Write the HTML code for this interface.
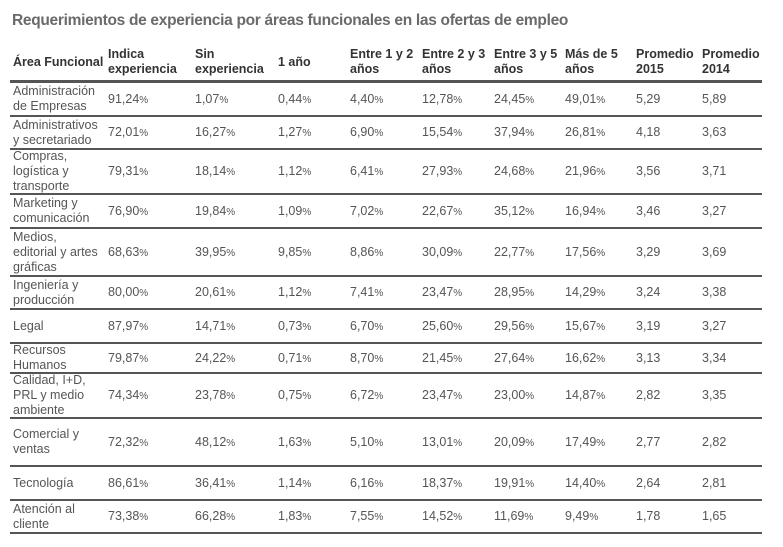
<!DOCTYPE html>
<html><head><meta charset="utf-8">
<style>
body{margin:0;width:783px;height:547px;background:#fff;font-family:"Liberation Sans",sans-serif;position:relative;overflow:hidden}
#title{position:absolute;left:12px;top:12px;font-size:15.5px;font-weight:bold;color:#6a6a6a;letter-spacing:-0.3px}
.h{position:absolute;font-size:12.5px;font-weight:bold;color:#333;line-height:15px}
.c{position:absolute;font-size:12.5px;color:#555;line-height:15px}
.c small{font-size:10px}
.line{position:absolute;left:10px;width:752px;background:#555}
</style></head><body>
<div id="title">Requerimientos de experiencia por áreas funcionales en las ofertas de empleo</div>
<div id="t"></div>
<script>
const headers=["Área Funcional","Indica<br>experiencia","Sin<br>experiencia","1 año","Entre 1 y 2<br>años","Entre 2 y 3<br>años","Entre 3 y 5<br>años","Más de 5<br>años","Promedio<br>2015","Promedio<br>2014"];
const areas=["Administración<br>de Empresas","Administrativos<br>y secretariado","Compras,<br>logística y<br>transporte","Marketing y<br>comunicación","Medios,<br>editorial y artes<br>gráficas","Ingeniería y<br>producción","Legal","Recursos<br>Humanos","Calidad, I+D,<br>PRL y medio<br>ambiente","Comercial y<br>ventas","Tecnología","Atención al<br>cliente"];
const indica=["91,24","72,01","79,31","76,90","68,63","80,00","87,97","79,87","74,34","72,32","86,61","73,38"];
const sinExp=["1,07","16,27","18,14","19,84","39,95","20,61","14,71","24,22","23,78","48,12","36,41","66,28"];
const unAno=["0,44","1,27","1,12","1,09","9,85","1,12","0,73","0,71","0,75","1,63","1,14","1,83"];
const e12=["4,40","6,90","6,41","7,02","8,86","7,41","6,70","8,70","6,72","5,10","6,16","7,55"];
const e23=["12,78","15,54","27,93","22,67","30,09","23,47","25,60","21,45","23,47","13,01","18,37","14,52"];
const e35=["24,45","37,94","24,68","35,12","22,77","28,95","29,56","27,64","23,00","20,09","19,91","11,69"];
const mas5=["49,01","26,81","21,96","16,94","17,56","14,29","15,67","16,62","14,87","17,49","14,40","9,49"];
const p2015=["5,29","4,18","3,56","3,46","3,29","3,24","3,19","3,13","2,82","2,77","2,64","1,78"];
const p2014=["5,89","3,63","3,71","3,27","3,69","3,38","3,27","3,34","3,35","2,82","2,81","1,65"];
const colX=[13,108,195,278,350,422,494,565,636,702];
const rowB=[81,115,148,193,227,275,308,342,372,417,465,499,532];
const t=document.getElementById('t');
headers.forEach((h,i)=>{const d=document.createElement('div');d.className='h';d.innerHTML=h;
d.style.left=colX[i]+'px';d.style.top=(h.includes('<br>')?47:55)+'px';


t.appendChild(d);});
rowB.forEach((y,i)=>{const l=document.createElement('div');l.className='line';
l.style.top=(i==0?y-1:y)+'px';l.style.height=(i==0?3:2)+'px';


t.appendChild(l);});
const pct=[indica,sinExp,unAno,e12,e23,e35,mas5];
areas.forEach((a,r)=>{
 const top=rowB[r]+2,bot=rowB[r+1];const mid=(top+bot)/2;
 const n=a.split('<br>').length;
 const d=document.createElement('div');d.className='c';d.innerHTML=a;d.style.left=colX[0]+'px';d.style.top=(mid-n*7.5)+'px';
 
 
 t.appendChild(d);
 const vals=pct.map(arr=>arr[r]+'<small>%</small>').concat([p2015[r],p2014[r]]);
 vals.forEach((v,i)=>{const c=document.createElement('div');c.className='c';c.innerHTML=v;
 c.style.left=colX[i+1]+'px';c.style.top=(mid-7.5)+'px';
 
 
 t.appendChild(c);});
});
</script>
</body></html>
